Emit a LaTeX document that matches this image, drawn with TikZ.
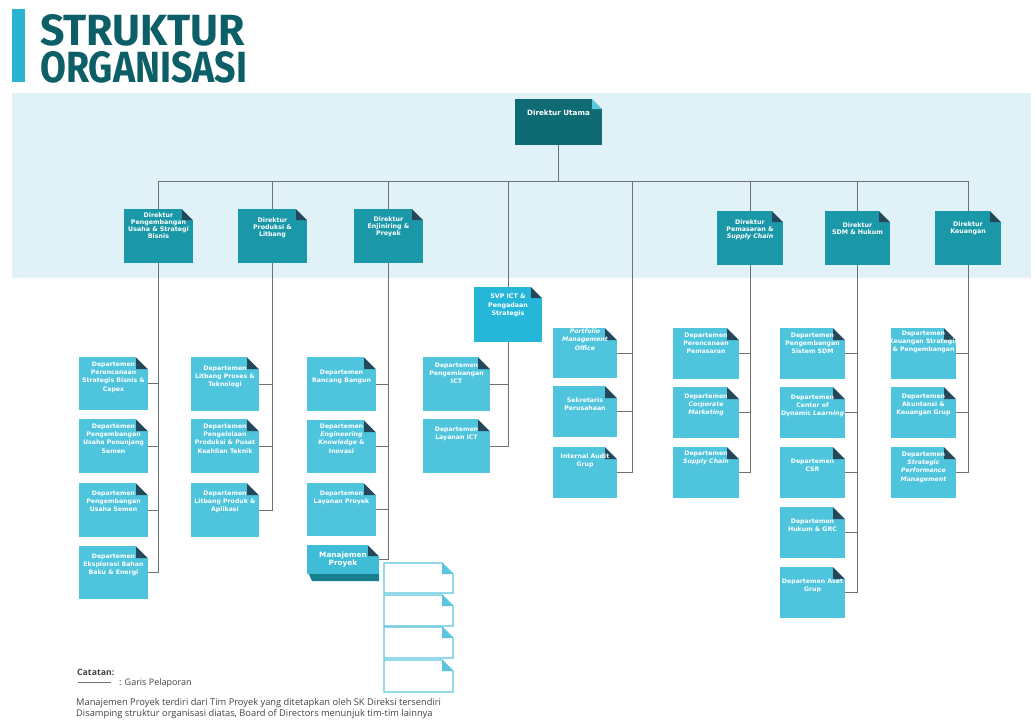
\documentclass[tikz,border=0pt]{standalone}
\usepackage{fontspec}
\usepackage{graphicx}
\setmainfont{DejaVu Sans}
\newfontfamily\titlefont{Fira Sans}
\newfontfamily\notefont{Open Sans}
\usetikzlibrary{calc}
\definecolor{bandcol}{HTML}{E0F1F7}
\definecolor{barcol}{HTML}{2AB4CF}
\definecolor{titlecol}{HTML}{0C5F66}
\definecolor{utamacol}{HTML}{0E6B74}
\definecolor{dircol}{HTML}{1B98A8}
\definecolor{deptcol}{HTML}{4EC4DD}
\definecolor{svpcol}{HTML}{25B7D9}
\definecolor{folddark}{HTML}{25475A}
\definecolor{foldlight}{HTML}{5CC8E0}
\definecolor{mpdark}{HTML}{17808F}
\definecolor{mptop}{HTML}{3FBDD7}
\definecolor{timcol}{HTML}{5CC6DE}
\definecolor{linecol}{HTML}{707070}
\definecolor{notecol}{HTML}{444444}
\newcommand\foldcorner[3]{%
  \fill[#2] ([xshift=-#1pt]path picture bounding box.north east) -- ++(0pt,-#1pt) -- ++(#1pt,0pt) -- cycle;
  \fill[#3] ([xshift=-#1pt]path picture bounding box.north east) -- (path picture bounding box.north east) -- ++(0pt,-#1pt) -- cycle;}
\newcommand\ob[8]{\node[#1, minimum width=#4pt, minimum height=#5pt] (#2) at (#3) {\parbox[t][#5pt][t]{#4pt}{\centering\vspace*{#6pt}\leavevmode#7#8\par}};}
\newcommand\utamafont{\fontsize{7.2}{8}\selectfont\bfseries}
\newcommand\dirfont{\fontsize{6.3}{7}\selectfont\bfseries}
\newcommand\deptfont{\fontsize{6.2}{8.2}\selectfont\bfseries}
\newcommand\svpfont{\fontsize{6.3}{8.5}\selectfont\bfseries}
\newcommand\mpfont{\fontsize{7.3}{8}\selectfont\bfseries}
\newcommand\wide[1]{\makebox[\linewidth][c]{#1}}
\tikzset{
  obox/.style={anchor=north west, inner sep=0pt, outer sep=0pt, text=white},
  utama/.style={obox, fill=utamacol, path picture={\foldcorner{10}{foldlight}{bandcol}}},
  dirbox/.style={obox, fill=dircol, path picture={\foldcorner{11}{folddark}{bandcol}}},
  svpbox/.style={obox, fill=svpcol, path picture={\foldcorner{11}{folddark}{white}}},
  deptbox/.style={obox, fill=deptcol, path picture={\foldcorner{12}{folddark}{white}}},
  mpbox/.style={obox, fill=mptop, path picture={\foldcorner{11}{folddark}{white}}},
  timbox/.style={obox, fill=white, path picture={\foldcorner{11}{timcol}{white}}},
  timline/.style={draw=timcol, line width=1.1pt, line join=miter},
  conn/.style={draw=linecol, line width=0.9pt},
  notetext/.style={inner sep=0pt, text=notecol, anchor=base west},
}
\begin{document}
\begin{tikzpicture}[x=1pt,y=-1pt]
\useasboundingbox (0,0) rectangle (1036,723);
\fill[white] (0,0) rectangle (1036,723);
\fill[bandcol] (12,93) rectangle (1031,278);
\fill[barcol] (12,9) rectangle (25,82);
\node[anchor=base west, inner sep=0pt, text=titlecol] (t1) at (40,45) {\resizebox{205pt}{31pt}{\titlefont\bfseries STRUKTUR}};
\node[anchor=base west, inner sep=0pt, text=titlecol] (t2) at (40,82.5) {\resizebox{207pt}{31pt}{\titlefont\bfseries ORGANISASI}};

% top
\ob{utama}{du}{515,99}{87}{46}{11}{\utamafont}{Direktur Utama}
% directors
\ob{dirbox}{d1}{124,209}{69}{54}{4}{\dirfont}{Direktur\\Pengembangan\\Usaha \& Strategi\\Bisnis}
\ob{dirbox}{d2}{238,209}{69}{54}{9}{\dirfont}{Direktur\\Produksi \&\\Litbang}
\ob{dirbox}{d3}{354,209}{69}{54}{8}{\dirfont}{Direktur\\Enjiniring \&\\Proyek}
\ob{dirbox}{d4}{717,211}{66}{54}{9}{\dirfont}{Direktur\\Pemasaran \&\\\textit{Supply Chain}}
\ob{dirbox}{d5}{825,211}{65}{54}{12}{\dirfont}{Direktur\\SDM \& Hukum}
\ob{dirbox}{d6}{935,211}{66}{54}{11}{\dirfont}{Direktur\\Keuangan}
% SVP
\ob{svpbox}{svp}{474,287}{68}{55}{7}{\svpfont}{SVP ICT \&\\Pengadaan\\Strategis}
% column 1
\ob{deptbox}{c1a}{79,357}{69}{53}{5}{\deptfont}{Departemen\\Perencanaan\\Strategis Bisnis \&\\Capex}
\ob{deptbox}{c1b}{79,419}{69}{54}{5}{\deptfont}{Departemen\\Pengembangan\\Usaha Penunjang\\Semen}
\ob{deptbox}{c1c}{79,483}{69}{54}{8}{\deptfont}{Departemen\\Pengembangan\\Usaha Semen}
\ob{deptbox}{c1d}{79,546}{69}{53}{8}{\deptfont}{Departemen\\Eksplorasi Bahan\\Baku \& Energi}
% column 2
\ob{deptbox}{c2a}{191,357}{68}{54}{9}{\deptfont}{Departemen\\Litbang Proses \&\\Teknologi}
\ob{deptbox}{c2b}{191,419}{68}{54}{5}{\deptfont}{Departemen\\Pengelolaan\\Produksi \& Pusat\\Keahlian Teknik}
\ob{deptbox}{c2c}{191,483}{68}{54}{8}{\deptfont}{Departemen\\Litbang Produk \&\\Aplikasi}
% column 3
\ob{deptbox}{c3a}{307,357}{69}{54}{13}{\deptfont}{Departemen\\Rancang Bangun}
\ob{deptbox}{c3b}{307,420}{69}{53}{4}{\deptfont}{Departemen\\\textit{Engineering}\\\textit{Knowledge} \&\\Inovasi}
\ob{deptbox}{c3c}{307,483}{69}{53}{8}{\deptfont}{Departemen\\Layanan Proyek}
\fill[mpdark] (307,570) -- (379,570) -- (379,581) -- (312,581) -- cycle;
\ob{mpbox}{mp}{307,545}{72}{29}{7}{\mpfont}{Manajemen\\Proyek}
% tim proyek boxes
\ob{timbox}{tim1}{384,563}{69}{30}{0}{}{}
\ob{timbox}{tim2}{384,595}{69}{31}{0}{}{}
\ob{timbox}{tim3}{384,627}{69}{31}{0}{}{}
\ob{timbox}{tim4}{384,660}{69}{32}{0}{}{}
\foreach \t in {tim1,tim2,tim3,tim4}
  \draw[timline] (\t.north west) -- ([xshift=-11pt]\t.north east) -- ([yshift=-11pt]\t.north east) -- (\t.south east) -- (\t.south west) -- cycle;
% ICT
\ob{deptbox}{ict1}{423,357}{67}{54}{6}{\deptfont}{Departemen\\Pengembangan\\ICT}
\ob{deptbox}{ict2}{423,419}{67}{54}{8}{\deptfont}{Departemen\\Layanan ICT}
% portfolio group
\ob{deptbox}{pmo1}{553,328}{64}{50}{1}{\deptfont}{\textit{Portfolio}\\\textit{Management}\\\textit{Office}}
\ob{deptbox}{pmo2}{553,386}{64}{51}{12}{\deptfont}{Sekretaris\\Perusahaan}
\ob{deptbox}{pmo3}{553,447}{64}{51}{7}{\deptfont}{\wide{Internal Audit}\\Grup}
% pemasaran
\ob{deptbox}{pm1}{673,328}{66}{51}{5}{\deptfont}{Departemen\\Perencanaan\\Pemasaran}
\ob{deptbox}{pm2}{673,387}{66}{51}{7}{\deptfont}{Departemen\\\textit{Corporate}\\\textit{Marketing}}
\ob{deptbox}{pm3}{673,447}{66}{51}{4}{\deptfont}{Departemen\\\textit{Supply Chain}}
% SDM
\ob{deptbox}{sd1}{780,328}{65}{51}{5}{\deptfont}{Departemen\\Pengembangan\\Sistem SDM}
\ob{deptbox}{sd2}{780,387}{65}{51}{8}{\deptfont}{Departemen\\Center of\\\wide{Dynamic \textit{Learning}}}
\ob{deptbox}{sd3}{780,447}{65}{51}{12}{\deptfont}{Departemen\\CSR}
\ob{deptbox}{sd4}{780,507}{65}{51}{12}{\deptfont}{Departemen\\Hukum \& GRC}
\ob{deptbox}{sd5}{780,567}{65}{51}{12}{\deptfont}{\wide{Departemen Aset}\\Grup}
% keuangan
\ob{deptbox}{ku1}{891,328}{65}{51}{3}{\deptfont}{Departemen\\\wide{Keuangan Strategis}\\\wide{\& Pengembangan}}
\ob{deptbox}{ku2}{891,387}{65}{51}{7}{\deptfont}{Departemen\\Akuntansi \&\\\wide{Keuangan Grup}}
\ob{deptbox}{ku3}{891,447}{65}{51}{5}{\deptfont}{Departemen\\\textit{Strategic}\\\textit{Performance}\\\textit{Management}}

% connectors
\coordinate (bus) at (558,181);
\coordinate (pftop) at (632,181);
\draw[conn] (du.south) -- (du.south |- bus);
\draw[conn] (d1.north |- bus) -- (d6.north |- bus);
\foreach \d in {d1,d2,d3,d4,d5,d6,svp}
  \draw[conn] (\d.north) -- (\d.north |- bus);
\draw[conn] (d1.south) |- (c1d.east);
\foreach \b in {c1a,c1b,c1c} \draw[conn] (\b.east) -- (\b.east -| d1.south);
\draw[conn] (d2.south) |- (c2c.east);
\foreach \b in {c2a,c2b} \draw[conn] (\b.east) -- (\b.east -| d2.south);
\draw[conn] (d3.south) |- (mp.east);
\foreach \b in {c3a,c3b,c3c} \draw[conn] (\b.east) -- (\b.east -| d3.south);
\draw[conn] (svp.south) |- (ict2.east);
\draw[conn] (ict1.east) -- (ict1.east -| svp.south);
\draw[conn] (pftop) |- (pmo3.east);
\foreach \b in {pmo1,pmo2} \draw[conn] (\b.east) -- (\b.east -| pftop);
\draw[conn] (d4.south) |- (pm3.east);
\foreach \b in {pm1,pm2} \draw[conn] (\b.east) -- (\b.east -| d4.south);
\draw[conn] (d5.south) |- (sd5.east);
\foreach \b in {sd1,sd2,sd3,sd4} \draw[conn] (\b.east) -- (\b.east -| d5.south);
\draw[conn] (d6.south) |- (ku3.east);
\foreach \b in {ku1,ku2} \draw[conn] (\b.east) -- (\b.east -| d6.south);

% legend
\node[notetext, font=\notefont\fontsize{8.7}{10}\selectfont\bfseries] (cat) at (77,675) {Catatan:};
\coordinate (lg1) at (78,682);
\coordinate (lg2) at (111,682);
\draw[draw=linecol, line width=0.8pt] (lg1) -- (lg2);
\node[notetext, font=\notefont\fontsize{9}{10}\selectfont] (gp) at (119,685) {: Garis Pelaporan};
\node[notetext, font=\notefont\fontsize{9.3}{10}\selectfont] (note1) at (76,705) {Manajemen Proyek terdiri dari Tim Proyek yang ditetapkan oleh SK Direksi tersendiri};
\node[notetext, font=\notefont\fontsize{9.3}{10}\selectfont] (note2) at (76,716) {Disamping struktur organisasi diatas, Board of Directors menunjuk tim-tim lainnya};
\end{tikzpicture}
\end{document}
